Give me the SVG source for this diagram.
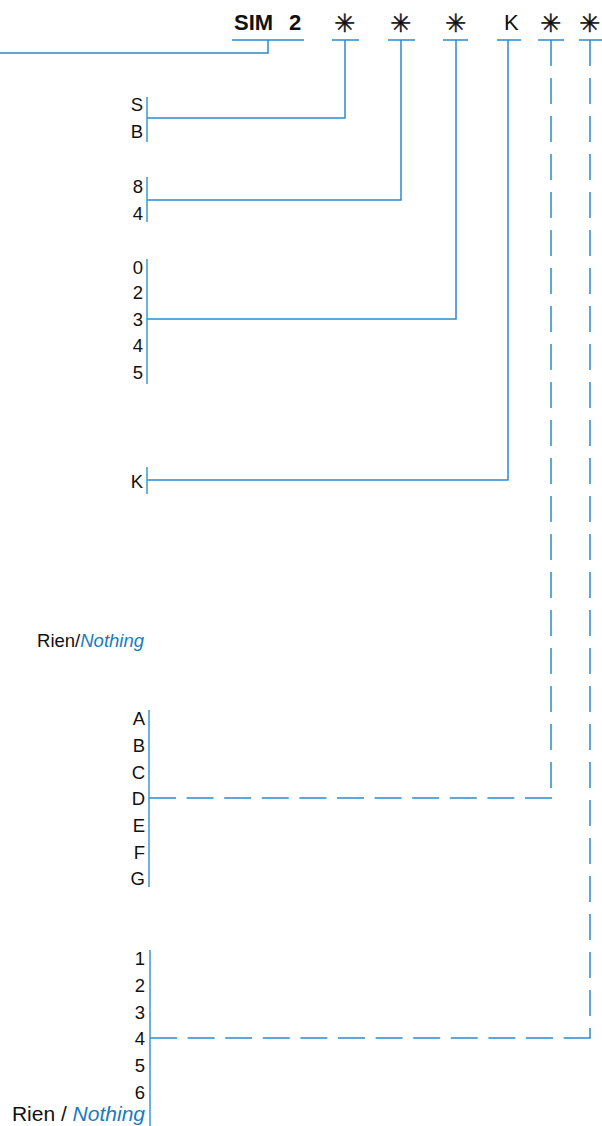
<svg xmlns="http://www.w3.org/2000/svg" width="602" height="1126" viewBox="0 0 602 1126">
<style>
.ln{stroke:#2a8acb;stroke-width:1.5;fill:none}
.dv{stroke:#2a8acb;stroke-width:1.5;fill:none;stroke-dasharray:26 12}
.dh{stroke:#2a8acb;stroke-width:1.5;fill:none;stroke-dasharray:27 10.6}
.bar{stroke:#3b98d4;stroke-width:1.5}
.lb{font-family:"Liberation Sans",Arial,sans-serif;font-size:18.5px;fill:#111;text-anchor:end}
.lb2{font-family:"Liberation Sans",Arial,sans-serif;font-size:21px;fill:#111;text-anchor:end}
.hd{font-family:"Liberation Sans",Arial,sans-serif;font-size:22px;fill:#111}
.st{font-family:"DejaVu Sans",sans-serif;font-size:25px;fill:#111;stroke:#111;stroke-width:0.5;text-anchor:middle}
.blue{fill:#1a7ac2;font-style:italic}
</style>
<rect width="602" height="1126" fill="#fff"/>
<g id="header">
<text class="hd" x="234" y="30" font-weight="bold">SIM</text>
<text class="hd" x="289" y="30" font-weight="bold">2</text>
<text class="st" x="345" y="32">✳</text>
<text class="st" x="401" y="32">✳</text>
<text class="st" x="456" y="32">✳</text>
<text class="hd" x="504" y="30">K</text>
<text class="st" x="551" y="32">✳</text>
<text class="st" x="590" y="32">✳</text>
</g>
<g id="connectors">
<path class="ln" d="M232 40H304M332 40H359M388 40H415M443 40H468M497 40H521M538 40H564M579 40H602"/>
<path class="ln" d="M268 40V53H0"/>
<path class="ln" d="M345 40V118H147"/>
<path class="ln" d="M401 40V200H147"/>
<path class="ln" d="M456 40V319H147"/>
<path class="ln" d="M508 40V480H147"/>
<path class="dv" d="M551 40V798"/>
<path class="dh" d="M149 798H552"/>
<path class="dv" d="M590 40V1038"/>
<path class="dh" d="M150 1038H591"/>
</g>
<g id="node-sb">
<line class="bar" x1="147" y1="97" x2="147" y2="142"/>
<text class="lb" x="143" y="111">S</text>
<text class="lb" x="143" y="138">B</text>
</g>
<g id="node-84">
<line class="bar" x1="147" y1="177" x2="147" y2="222"/>
<text class="lb" x="143" y="193">8</text>
<text class="lb" x="143" y="220">4</text>
</g>
<g id="node-digits">
<line class="bar" x1="147" y1="259" x2="147" y2="384"/>
<text class="lb" x="143" y="274">0</text>
<text class="lb" x="143" y="299">2</text>
<text class="lb" x="143" y="326">3</text>
<text class="lb" x="143" y="352">4</text>
<text class="lb" x="143" y="379">5</text>
</g>
<g id="node-k">
<line class="bar" x1="147" y1="467" x2="147" y2="494"/>
<text class="lb" x="143" y="488">K</text>
</g>
<g id="node-rien1">
<text class="lb" x="144" y="647">Rien/<tspan class="blue">Nothing</tspan></text>
</g>
<g id="node-letters">
<line class="bar" x1="149" y1="710" x2="149" y2="887"/>
<text class="lb" x="145" y="725">A</text>
<text class="lb" x="145" y="752">B</text>
<text class="lb" x="145" y="779">C</text>
<text class="lb" x="145" y="805">D</text>
<text class="lb" x="145" y="832">E</text>
<text class="lb" x="145" y="859">F</text>
<text class="lb" x="145" y="885">G</text>
</g>
<g id="node-numbers">
<line class="bar" x1="150" y1="950" x2="150" y2="1126"/>
<text class="lb" x="145" y="965">1</text>
<text class="lb" x="145" y="992">2</text>
<text class="lb" x="145" y="1019">3</text>
<text class="lb" x="145" y="1045">4</text>
<text class="lb" x="145" y="1072">5</text>
<text class="lb" x="145" y="1099">6</text>
<text class="lb2" x="145" y="1121">Rien / <tspan class="blue">Nothing</tspan></text>
</g>
</svg>
